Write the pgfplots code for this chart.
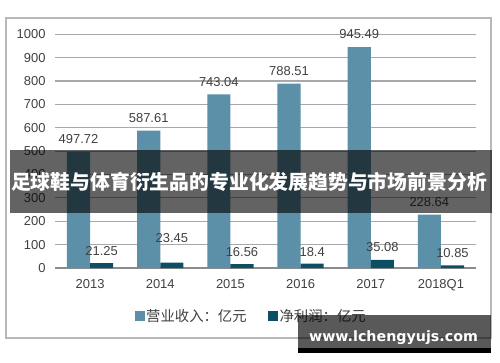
\documentclass[border=0pt]{standalone}
\usepackage{pgfplots}
\pgfplotsset{compat=1.18}
\usepackage{fontspec}
\setmainfont{Liberation Sans}
\newfontfamily\cjk{Noto Sans CJK SC}
\newfontfamily\wm{DejaVu Sans}
\definecolor{rev}{RGB}{91,144,168}
\definecolor{net}{RGB}{14,78,100}
\definecolor{txt}{RGB}{64,64,64}
\definecolor{gridc}{RGB}{168,168,168}
\definecolor{framec}{RGB}{184,184,184}
\definecolor{basec}{RGB}{140,140,140}
\pgfplotstableread{
x y lab
0 497.72 497.72
1 587.61 587.61
2 743.04 743.04
3 788.51 788.51
4 945.49 945.49
5 228.64 228.64
}\revtab
\pgfplotstableread{
x y lab dy
0 21.25 21.25 4
1 23.45 23.45 16
2 16.56 16.56 3.5
3 18.4 18.4 4
4 35.08 35.08 5
5 10.85 10.85 4
}\nettab
\begin{document}
\begin{tikzpicture}[x=1bp,y=1bp]
\useasboundingbox (0,0) rectangle (500,362);
\draw[framec, line width=1.2bp] (6,24) rectangle (491,344);
\begin{axis}[
  at={(55bp,94bp)}, anchor=south west,
  scale only axis, width=421bp, height=233.7bp,
  xmin=-0.5, xmax=5.5, ymin=0, ymax=1000,
  ytick={0,100,...,1000}, xtick={0,...,5},
  xticklabels={2013,2014,2015,2016,2017,2018Q1},
  axis line style={draw=none},
  major tick length=0pt, tick style={draw=none},
  ymajorgrids, grid style={gridc, line width=1.1bp},
  extra y ticks={0}, extra y tick labels={},
  extra y tick style={grid style={basec, line width=1.5bp}},
  /pgf/number format/assume math mode=true,
  /pgf/number format/1000 sep={},
  ticklabel style={font=\fontsize{13}{15}\selectfont, text=txt},
  yticklabel style={xshift=-6bp},
  xticklabel style={yshift=-8bp},
  ybar=0pt, bar width=0.33,
  nodes near coords,
  point meta=explicit symbolic,
  every node near coord/.append style={font=\fontsize{13}{15}\selectfont, text=txt},
  legend style={draw=none, fill=none, at={(0.4655,-0.205)}, anchor=center,
    font=\cjk\fontsize{14.4}{16}\selectfont, text=txt,
    nodes={inner xsep=1.5bp},
    /tikz/every even column/.append style={column sep=20bp}},
  legend columns=2,
  legend image code/.code={\fill[#1] (0bp,-5bp) rectangle (10bp,5bp);},
]
\addplot[fill=rev, draw=none, every node near coord/.append style={yshift=4.5bp}]
  table[x=x, y=y, meta=lab] {\revtab};
\addplot[fill=net, draw=none,
  visualization depends on={\thisrow{dy} \as \dy},
  every node near coord/.append style={yshift=\dy bp}]
  table[x=x, y=y, meta=lab] {\nettab};
\legend{营业收入：亿元, 净利润：亿元}
\end{axis}
\fill[black, opacity=0.61] (10,149) rectangle (492,212);
\node[text=white, inner sep=0pt, font=\cjk\bfseries\fontsize{19.9}{22}\selectfont] at (249,180.5) {足球鞋与体育衍生品的专业化发展趋势与市场前景分析};
\fill[black, opacity=0.65] (298,14) rectangle (491,47);
\fill[black] (298,9) rectangle (491,14);
\node[text=white, anchor=base, inner sep=0pt, font=\wm\bfseries\fontsize{14.3}{16}\selectfont] at (393.5,20.3) {www.lchengyujs.com};
\end{tikzpicture}
\end{document}
